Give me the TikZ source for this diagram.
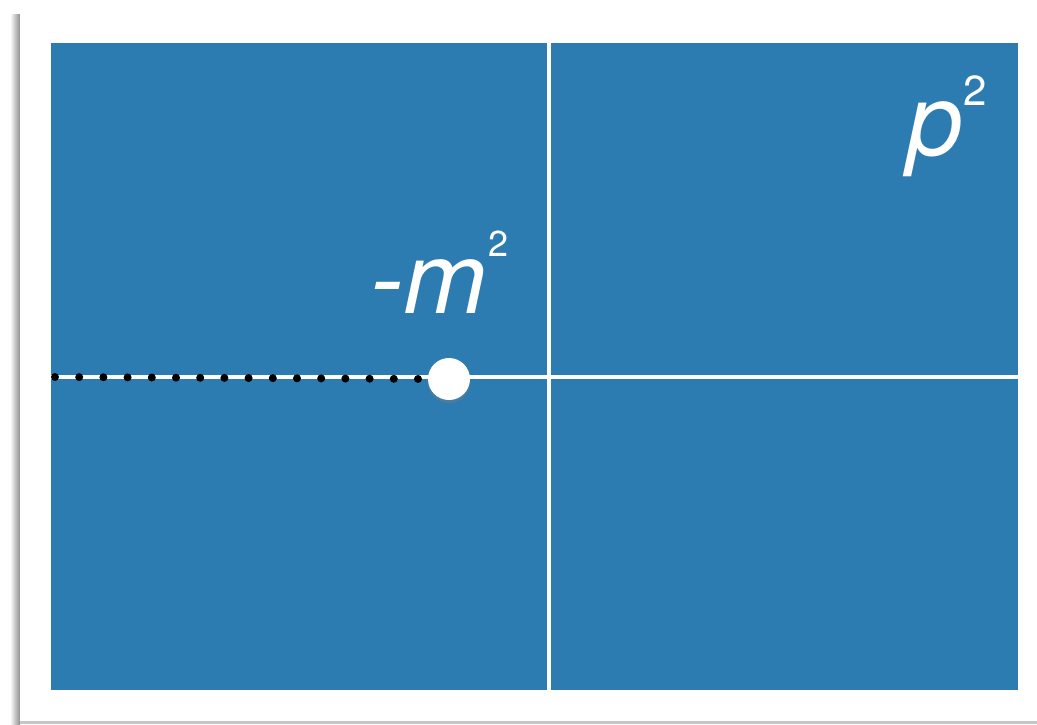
\documentclass[tikz,border=0pt]{standalone}
\usepackage{fontspec}
\setmainfont{TeX Gyre Heros}
\usetikzlibrary{shadows}
\definecolor{paper}{HTML}{2C7CB2}
\definecolor{rim}{HTML}{8E8E8E}
\tikzset{
  axis/.style={white,line width=4pt},
  cutline/.style={black,line width=8pt,line cap=round,dash pattern=on 0pt off 24.2pt},
  pole/.style={circle,fill=white,minimum size=42pt,inner sep=0pt,
    drop shadow={opacity=0.35,shadow xshift=0pt,shadow yshift=-3pt}},
  lbl/.style={white,inner sep=0pt,anchor=base west},
}
\newcommand{\sqr}[2]{\raisebox{#1}{\fontsize{#2}{#2}\selectfont\upshape 2}}

\begin{document}
\begin{tikzpicture}[x=1pt,y=-1pt]
\useasboundingbox (0,0) rectangle (1037,724);
% sheet and its shadow
\shade[left color=white,right color=rim] (10,14) rectangle (20,724);
\fill[rim!50] (20,721) rectangle (1037,724);
\fill[white] (20,10) rectangle (1037,721);
% complex plane
\fill[paper] (51,43) rectangle (1018,690);
\draw[axis] (549,43) -- (549,690);
\draw[axis] (20,377) -- (1018,377);
% branch cut up to the pole
\coordinate (cut) at (55,377);
\node[pole] (pole) at (449,379) {};
\draw[cutline] (cut) -- (pole.west);
% labels
\node[lbl,font=\fontsize{100}{100}\selectfont\itshape] (mass) at (370,313)
  {-m\kern2pt\sqr{57pt}{36}};
\node[lbl,font=\fontsize{100}{100}\selectfont\itshape] (mom) at (907,155)
  {p\kern1pt\sqr{50pt}{42}};
\end{tikzpicture}
\end{document}
